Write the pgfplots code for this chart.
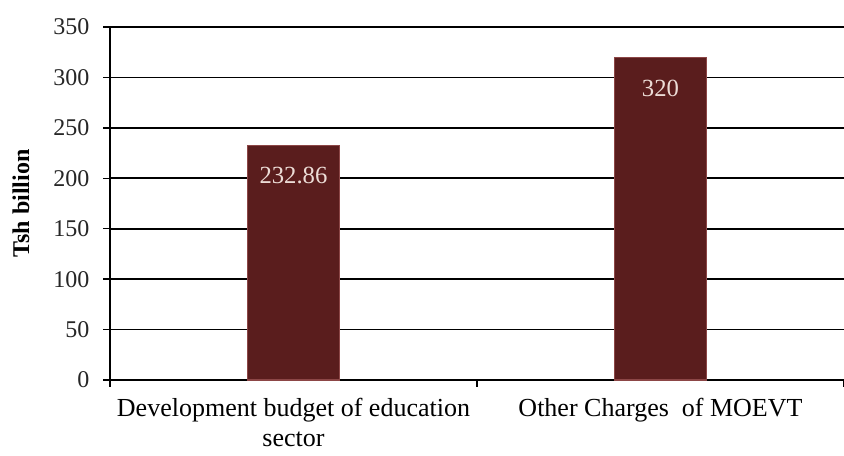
\documentclass[border=0pt]{standalone}
\usepackage{fontspec}
\setmainfont{Liberation Serif}
\usepackage{pgfplots}
\pgfplotsset{compat=1.18}
\definecolor{barfill}{RGB}{90,29,29}
\definecolor{baredge}{RGB}{140,70,70}
\definecolor{lbl}{RGB}{236,220,214}
\begin{document}
\begin{tikzpicture}[x=0.75pt,y=0.75pt]
\useasboundingbox (-110,-76) rectangle (734,380);
\begin{axis}[
  at={(0,0)}, anchor=south west,
  scale only axis,
  width=550.5pt, height=264.75pt,
  xmin=-0.5, xmax=1.5,
  ymin=0, ymax=350,
  ytick={0,50,...,350},
  xtick={-0.5,0.5,1.5},
  xticklabels={},
  extra x ticks={0,1},
  extra x tick labels={Development budget of education\\sector, Other Charges\ \ of MOEVT},
  extra x tick style={major tick length=0pt, xticklabel style={align=center, font=\fontsize{19.5}{22.5}\selectfont, yshift=-10pt}},
  axis line style={black, line width=1pt},
  axis x line*=bottom,
  axis y line*=left,
  x axis line style={-},
  y axis line style={-},
  tick align=outside,
  major tick length=5pt,
  tick style={black, line width=1pt},
  ymajorgrids,
  grid style={black, line width=1.2pt},
  yticklabel style={font=\fontsize{18}{21}\selectfont, text=black!85, xshift=-7pt},
  /pgf/number format/assume math mode=true,
  ylabel={\textbf{Tsh billion}},
  ylabel style={font=\fontsize{18}{21}\selectfont, yshift=11pt},
  ybar, bar width=69pt,
  nodes near coords={\pgfmathprintnumber[fixed,precision=2]{\pgfplotspointmeta}},
  every node near coord/.append style={anchor=center, yshift=-23pt, text=lbl, font=\fontsize{18.5}{21}\selectfont},
  clip=false,
]
\addplot[fill=barfill, draw=baredge, line width=0.8pt] coordinates {(0,232.86) (1,320)};
\end{axis}
\end{tikzpicture}
\end{document}
